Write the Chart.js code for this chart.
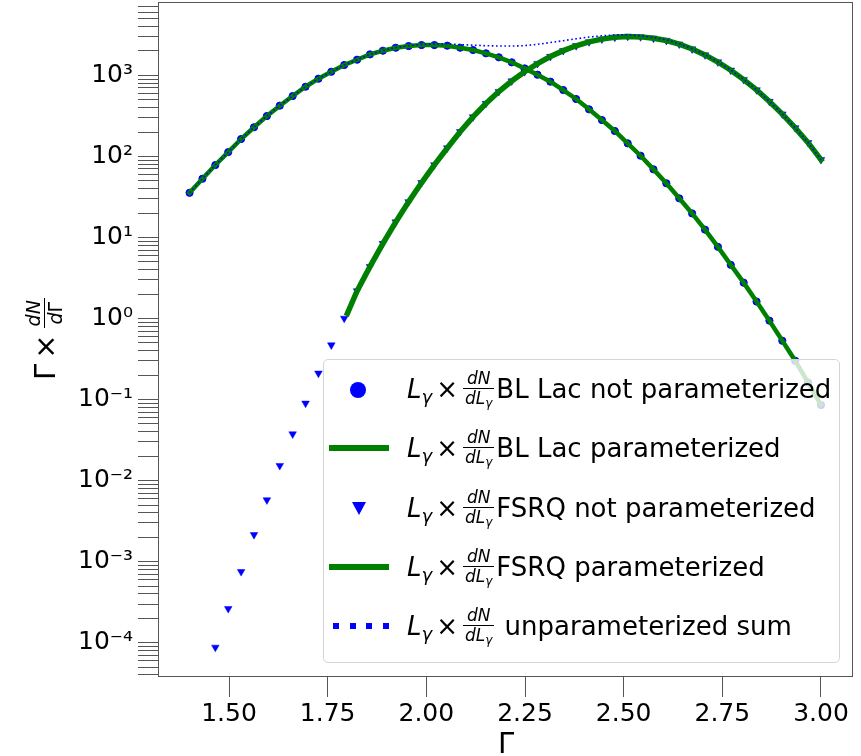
<!DOCTYPE html>
<html>
<head>
<meta charset="utf-8">
<script src="https://cdn.jsdelivr.net/npm/chart.js@4.4.1/dist/chart.umd.min.js"></script>
<style>
body{margin:0;background:#fff;}
#wrap{position:relative;width:861px;height:756px;font-family:"DejaVu Sans",sans-serif;color:#000;overflow:hidden;}
#chart{position:absolute;left:0;top:0;}
.legend{position:absolute;left:323px;top:359px;width:515px;height:302px;border:1px solid #d4d4d4;border-radius:5px;background:rgba(255,255,255,0.8);}
.row{position:absolute;left:407px;white-space:nowrap;font-size:26px;line-height:50px;}
.it{font-style:italic;}
.sub{font-size:18px;position:relative;top:5px;}
.tm{margin:0 4px 0 4px;}
.frac{display:inline-block;vertical-align:-5.5px;font-size:17px;line-height:1;text-align:center;margin:0 2px 0 1px;}
.frac .n{display:block;border-bottom:1.3px solid #000;padding:0 2px 1px;}
.frac .d{display:block;padding:1px 2px 0;}
.frac .s{font-size:12px;position:relative;top:3px;}
.h{position:absolute;}
.dot{width:16px;height:16px;border-radius:50%;background:#0000ff;}
.gl{width:60px;height:6px;background:#008000;}
.tri{width:0;height:0;border-left:7px solid transparent;border-right:7px solid transparent;border-top:13px solid #0000ff;}
.dash{width:56px;height:6px;background:repeating-linear-gradient(to right,#0000ff 0 6px,transparent 6px 16.7px);}
#xtitle{position:absolute;left:406px;top:723px;width:200px;text-align:center;font-size:29px;line-height:40px;}
#ytitle{position:absolute;left:15px;top:438px;width:200px;text-align:center;font-size:29px;line-height:60px;white-space:nowrap;transform-origin:0 0;transform:rotate(-90deg);}
#ytitle .tm{margin:0 5px;}
#ytitle .frac{font-size:19px;vertical-align:-6.5px;}
</style>
</head>
<body>
<div id="wrap">
  <canvas id="chart" width="861" height="756"></canvas>

  <div id="ytitle">Γ<span class="tm">×</span><span class="frac"><span class="n"><span class="it">dN</span></span><span class="d"><span class="it">d</span>Γ</span></span></div>
  <div id="xtitle">Γ</div>

  <div class="legend"></div>
  <div class="h dot" style="left:350px;top:382px"></div>
  <div class="h gl" style="left:329px;top:445px"></div>
  <div class="h tri" style="left:352px;top:502px"></div>
  <div class="h gl" style="left:329px;top:564px"></div>
  <div class="h dash" style="left:333px;top:623px"></div>

  <div class="row" style="top:364px"><span class="it">L</span><span class="sub it">γ</span><span class="tm">×</span><span class="frac"><span class="n"><span class="it">dN</span></span><span class="d"><span class="it">dL</span><span class="s it">γ</span></span></span>BL Lac not parameterized</div>
  <div class="row" style="top:423px"><span class="it">L</span><span class="sub it">γ</span><span class="tm">×</span><span class="frac"><span class="n"><span class="it">dN</span></span><span class="d"><span class="it">dL</span><span class="s it">γ</span></span></span>BL Lac parameterized</div>
  <div class="row" style="top:483px"><span class="it">L</span><span class="sub it">γ</span><span class="tm">×</span><span class="frac"><span class="n"><span class="it">dN</span></span><span class="d"><span class="it">dL</span><span class="s it">γ</span></span></span>FSRQ not parameterized</div>
  <div class="row" style="top:542px"><span class="it">L</span><span class="sub it">γ</span><span class="tm">×</span><span class="frac"><span class="n"><span class="it">dN</span></span><span class="d"><span class="it">dL</span><span class="s it">γ</span></span></span>FSRQ parameterized</div>
  <div class="row" style="top:601px"><span class="it">L</span><span class="sub it">γ</span><span class="tm">×</span><span class="frac"><span class="n"><span class="it">dN</span></span><span class="d"><span class="it">dL</span><span class="s it">γ</span></span></span> unparameterized sum</div>
</div>

<script>
// photon index grid
const gamma = [
  1.4, 1.43265, 1.46531, 1.49796, 1.53061, 1.56327, 1.59592, 1.62857, 1.66122, 1.69388,
  1.72653, 1.75918, 1.79184, 1.82449, 1.85714, 1.8898, 1.92245, 1.9551, 1.98776, 2.02041,
  2.05306, 2.08571, 2.11837, 2.15102, 2.18367, 2.21633, 2.24898, 2.28163, 2.31429, 2.34694,
  2.37959, 2.41224, 2.4449, 2.47755, 2.5102, 2.54286, 2.57551, 2.60816, 2.64082, 2.67347,
  2.70612, 2.73878, 2.77143, 2.80408, 2.83673, 2.86939, 2.90204, 2.93469, 2.96735, 3.0
]

const blLac = [
  35.6, 53.1, 78.3, 113, 164, 229, 315, 423, 556, 724,
  910, 1109, 1343, 1560, 1816, 2014, 2193, 2301, 2366, 2366,
  2323, 2193, 2056, 1871, 1671, 1449, 1219, 1019, 836, 659,
  511, 381, 281, 206, 145, 102, 69.3, 46.6, 30.4, 19.8,
  12.5, 7.66, 4.59, 2.77, 1.62, 0.94, 0.532, 0.301, 0.162, 0.0857
]

const fsrq = [
  null, null, 8.77e-5, 2.63e-4, 7.52e-4, 2.15e-3, 5.77e-3, 0.0153, 0.0376, 0.0899,
  0.211, 0.471, 1.005, 2.19, 4.37, 8.41, 15.5, 27.5, 47.3, 78.5,
  127, 202, 307, 449, 631, 851, 1109, 1396, 1706, 2018,
  2317, 2588, 2799, 2951, 3020, 2985, 2871, 2692, 2427, 2113,
  1786, 1462, 1156, 887, 661, 476, 333, 225, 148, 91.2
]

const sumUnparam = [
  35.6, 53.1, 78.3, 113, 164, 229, 315, 423, 556, 724,
  910, 1109, 1344, 1562, 1820, 2022, 2209, 2329, 2413, 2445,
  2450, 2395, 2363, 2320, 2302, 2300, 2328, 2415, 2542, 2677,
  2828, 2969, 3080, 3157, 3165, 3087, 2940, 2739, 2457, 2133,
  1799, 1470, 1161, 890, 663, 477, 334, 225, 148, 91.3
]

// parameterized FSRQ curve starts at 1.8
const fsrqParamGamma = [1.8].concat(gamma.slice(13))
const fsrqParam = [1.16].concat(fsrq.slice(13))

const xTicks = [1.5, 1.75, 2.0, 2.25, 2.5, 2.75, 3.0]
const xTickLabels = ["1.50", "1.75", "2.00", "2.25", "2.50", "2.75", "3.00"]
const yMajorTicks = [1e-4, 1e-3, 1e-2, 1e-1, 1, 10, 100, 1000]
const yTickLabels = ["10⁻⁴", "10⁻³", "10⁻²", "10⁻¹", "10⁰", "10¹", "10²", "10³"]

const xMin = 1.32, xMax = 3.0786
const yMin = 3.776e-5, yMax = 7816

function pts(xs, ys){
    return xs.map((x, i) => ({x: x, y: ys[i]}))
}

const framePlugin = {
    id: "frame",
    afterDatasetsDraw(chart){
        const {ctx, chartArea: a} = chart
        ctx.save()
        ctx.strokeStyle = "#555"
        ctx.lineWidth = 1
        ctx.strokeRect(a.left + 0.5, a.top - 0.5, a.right - a.left, a.bottom - a.top)
        ctx.restore()
    }
}

const tickFont = {family: "DejaVu Sans", size: 25}

new Chart(document.getElementById("chart"), {
    type: "line",
    data: {
        datasets: [
            {
                label: "BL Lac not parameterized",
                data: pts(gamma, blLac),
                showLine: false,
                pointStyle: "circle",
                pointRadius: 3.6,
                pointBackgroundColor: "#0000ff",
                pointBorderColor: "#0000ff",
                pointBorderWidth: 1,
                order: 5
            },
            {
                label: "BL Lac parameterized",
                data: pts(gamma, blLac),
                borderColor: "#008000",
                borderWidth: 4.5,
                pointRadius: 0,
                borderCapStyle: "square",
                order: 4
            },
            {
                label: "FSRQ not parameterized",
                data: pts(gamma, fsrq),
                showLine: false,
                pointStyle: "triangle",
                rotation: 180,
                pointRadius: 4.4,
                pointBackgroundColor: "#0000ff",
                pointBorderColor: "#0000ff",
                pointBorderWidth: 0.5,
                order: 3
            },
            {
                label: "FSRQ parameterized",
                data: pts(fsrqParamGamma, fsrqParam),
                borderColor: "#008000",
                borderWidth: 5.5,
                pointRadius: 0,
                borderCapStyle: "square",
                order: 2
            },
            {
                label: "unparameterized sum",
                data: pts(gamma, sumUnparam),
                borderColor: "#0000ff",
                borderWidth: 1.6,
                borderDash: [1.6, 2.6],
                pointRadius: 0,
                order: 1
            }
        ]
    },
    options: {
        responsive: false,
        devicePixelRatio: 1,
        animation: false,
        events: [],
        layout: {autoPadding: false, padding: {top: 3, right: 9, left: 0, bottom: 0}},
        plugins: {legend: {display: false}, tooltip: {enabled: false}},
        scales: {
            x: {
                type: "linear",
                min: xMin,
                max: xMax,
                bounds: "data",
                border: {display: false},
                grid: {drawOnChartArea: false, drawTicks: true, tickLength: 20, tickColor: "#555", tickWidth: 1},
                ticks: {
                    font: tickFont,
                    color: "#000",
                    padding: 2,
                    maxRotation: 0,
                    autoSkip: false,
                    callback: (v, i) => xTickLabels[i]
                },
                afterBuildTicks: s => { s.ticks = xTicks.map(v => ({value: v})) },
                afterFit: s => { s.height = 79; s.paddingLeft = 0; s.paddingRight = 0 }
            },
            y: {
                type: "logarithmic",
                min: yMin,
                max: yMax,
                bounds: "data",
                border: {display: false},
                grid: {drawOnChartArea: false, drawTicks: true, tickLength: 20, tickColor: "#555", tickWidth: 1},
                ticks: {
                    font: tickFont,
                    color: "#000",
                    padding: 5,
                    autoSkip: false,
                    callback: v => {
                        const i = yMajorTicks.findIndex(m => Math.abs(Math.log10(v / m)) < 1e-6)
                        return i >= 0 ? yTickLabels[i] : ""
                    }
                },
                afterBuildTicks: s => {
                    const list = []
                    for (let e = -5; e <= 3; e++) {
                        for (let m = 1; m <= 9; m++) {
                            const v = m * Math.pow(10, e)
                            if (v >= yMin && v <= yMax) list.push({value: v})
                        }
                    }
                    s.ticks = list
                },
                afterFit: s => { s.width = 158; s.paddingTop = 0; s.paddingBottom = 0 }
            }
        }
    },
    plugins: [framePlugin]
})
</script>
</body>
</html>
